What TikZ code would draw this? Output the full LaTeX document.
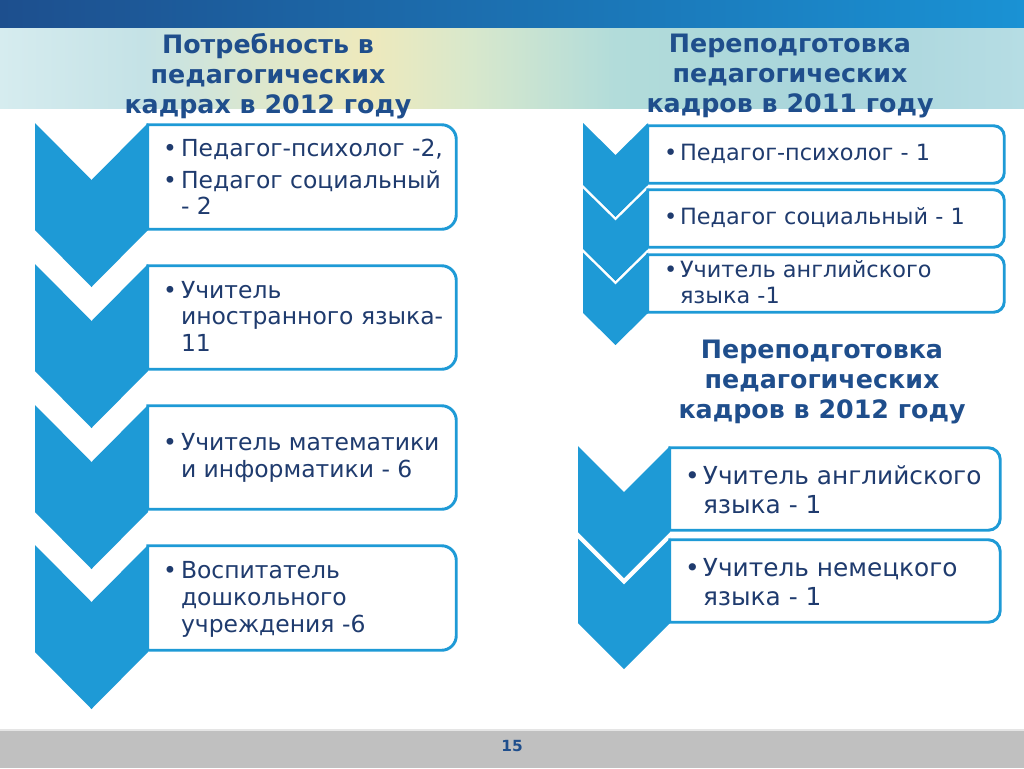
\documentclass[tikz,border=0pt]{standalone}
\usepackage{fontspec}
\setmainfont{DejaVu Sans}
\usetikzlibrary{calc,fit}
\definecolor{chev}{HTML}{1E9AD6}
\definecolor{navy}{HTML}{1F3B6E}
\definecolor{ttl}{HTML}{1F4E8C}
\definecolor{barL}{HTML}{1D4F8E}
\definecolor{barR}{HTML}{1A92D4}
\definecolor{foot}{HTML}{C0C0C0}
\definecolor{bA}{HTML}{D6ECEF}
\definecolor{bB}{HTML}{C4E2E6}
\definecolor{bC}{HTML}{E2E8C8}
\definecolor{bD}{HTML}{EEE9BC}
\definecolor{bE}{HTML}{D8E8CC}
\definecolor{bF}{HTML}{B2DCDA}
\definecolor{bG}{HTML}{A9D5DB}
\definecolor{bH}{HTML}{B6DDE4}
\pgfdeclarehorizontalshading{band}{100bp}{color(0bp)=(bA); color(25bp)=(bA); color(32bp)=(bB); color(39bp)=(bC); color(43bp)=(bD); color(48bp)=(bE); color(55bp)=(bF); color(65bp)=(bG); color(75bp)=(bH); color(100bp)=(bH)}
\newcommand{\mychev}[5]{\path[chevfill] (#1,#3) -- ({(#1+#2)/2},{#3+#5}) -- (#2,#3) -- (#2,{#3+#4}) -- ({(#1+#2)/2},{#3+#4+#5}) -- (#1,{#3+#4}) -- cycle;}
\newcommand{\roundbox}[2]{\draw[boxline] (#1.south west) -- (#1.north west) -- ([xshift=-#2]#1.north east) arc[start angle=90,end angle=0,radius=#2] -- ([yshift=#2]#1.south east) arc[start angle=0,end angle=-90,radius=#2] -- cycle;}
\newcommand{\bl}[1]{\makebox[#1][l]{•}}
\tikzset{
  chevfill/.style={fill=chev},
  notchline/.style={draw=white, line width=1.5pt},
  boxline/.style={draw=chev, line width=2.2pt, fill=white},
  boxfit/.style={inner sep=0pt, draw=none},
  ttlnode/.style={align=center, text=ttl, font=\bfseries\fontsize{19}{22.5}\selectfont},
  txtL/.style={anchor=west, inner sep=0pt, text=navy, font=\fontsize{17.6}{20}\selectfont},
  txtR/.style={anchor=west, inner sep=0pt, text=navy, font=\fontsize{16.8}{19.5}\selectfont},
  txtB/.style={anchor=west, inner sep=0pt, text=navy, font=\fontsize{18.6}{21.8}\selectfont},
}
\begin{document}
\begin{tikzpicture}[x=0.75pt,y=-0.75pt]
\useasboundingbox (0,0) rectangle (1024,768);
\fill[white] (0,0) rectangle (1024,768);
% header
\shade[shading=band] (0,27) rectangle (1024,108);
\shade[left color=barL, right color=barR] (0,0) rectangle (1024,27);
% footer
\fill[foot] (0,730) rectangle (1024,768);
\draw[white!80!gray, line width=1pt] (0,730) -- (1024,730);
\node[text=ttl, font=\bfseries\fontsize{11.5}{12}\selectfont] (pg) at (512,746) {15};
% titles
\node[ttlnode] (T1) at (268,76) {Потребность в\\педагогических\\кадрах в 2012 году};
\node[ttlnode] (T2) at (790,76) {Переподготовка\\педагогических\\кадров в 2011 году};
\node[ttlnode] (T3) at (822,382) {Переподготовка\\педагогических\\кадров в 2012 году};
% left column
\mychev{35}{148}{123}{107}{57}
\mychev{35}{148}{264}{107}{57}
\mychev{35}{148}{405}{107}{57}
\mychev{35}{148}{545}{107}{57}
\node[boxfit, fit={(148,125)(456,229)}] (L1) {};
\node[boxfit, fit={(148,266)(456,369)}] (L2) {};
\node[boxfit, fit={(148,406)(456,509)}] (L3) {};
\node[boxfit, fit={(148,546)(456,650)}] (L4) {};
\roundbox{L1}{11pt}\roundbox{L2}{11pt}\roundbox{L3}{11pt}\roundbox{L4}{11pt}
\node[txtL] (tL1) at ($(L1.west)+(15,3)$) {\begin{tabular}{@{}l@{}l@{}}\bl{13.5pt}&Педагог-психолог -2,\\[4pt]\bl{13.5pt}&Педагог социальный\\&- 2\end{tabular}};
\node[txtL] (tL2) at ($(L2.west)+(15,2)$) {\begin{tabular}{@{}l@{}l@{}}\bl{13.5pt}&Учитель\\&иностранного языка-\\&11\end{tabular}};
\node[txtL] (tL3) at ($(L3.west)+(15,1)$) {\begin{tabular}{@{}l@{}l@{}}\bl{13.5pt}&Учитель математики\\&и информатики - 6\end{tabular}};
\node[txtL] (tL4) at ($(L4.west)+(15,2)$) {\begin{tabular}{@{}l@{}l@{}}\bl{13.5pt}&Воспитатель\\&дошкольного\\&учреждения -6\end{tabular}};
% right top (2011)
\mychev{583}{648}{123}{62}{32}
\mychev{583}{648}{187}{62}{32}
\draw[notchline] (583,187) -- (615.5,219) -- (648,187);
\mychev{583}{648}{251}{62}{32}
\draw[notchline] (583,251) -- (615.5,283) -- (648,251);
\node[boxfit, fit={(648,126)(1004,183)}] (R1) {};
\node[boxfit, fit={(648,190)(1004,247)}] (R2) {};
\node[boxfit, fit={(648,255)(1004,312)}] (R3) {};
\roundbox{R1}{8pt}\roundbox{R2}{8pt}\roundbox{R3}{8pt}
\node[txtR] (tR1) at ($(R1.west)+(16,1)$) {\begin{tabular}{@{}l@{}l@{}}\bl{12pt}&Педагог-психолог - 1\end{tabular}};
\node[txtR] (tR2) at ($(R2.west)+(16,1)$) {\begin{tabular}{@{}l@{}l@{}}\bl{12pt}&Педагог социальный - 1\end{tabular}};
\node[txtR] (tR3) at ($(R3.west)+(16,2)$) {\begin{tabular}{@{}l@{}l@{}}\bl{12pt}&Учитель английского\\&языка -1\end{tabular}};
% right bottom (2012)
\mychev{578}{670}{446}{86}{46}
\mychev{578}{670}{537}{86}{46}
\draw[notchline] (578,537) -- (624,583) -- (670,537);
\node[boxfit, fit={(670,448)(1000,530)}] (S1) {};
\node[boxfit, fit={(670,540)(1000,622)}] (S2) {};
\roundbox{S1}{9pt}\roundbox{S2}{9pt}
\node[txtB] (tS1) at ($(S1.west)+(15,4)$) {\begin{tabular}{@{}l@{}l@{}}\bl{13.5pt}&Учитель английского\\&языка - 1\end{tabular}};
\node[txtB] (tS2) at ($(S2.west)+(15,4)$) {\begin{tabular}{@{}l@{}l@{}}\bl{13.5pt}&Учитель немецкого\\&языка - 1\end{tabular}};
\end{tikzpicture}
\end{document}
